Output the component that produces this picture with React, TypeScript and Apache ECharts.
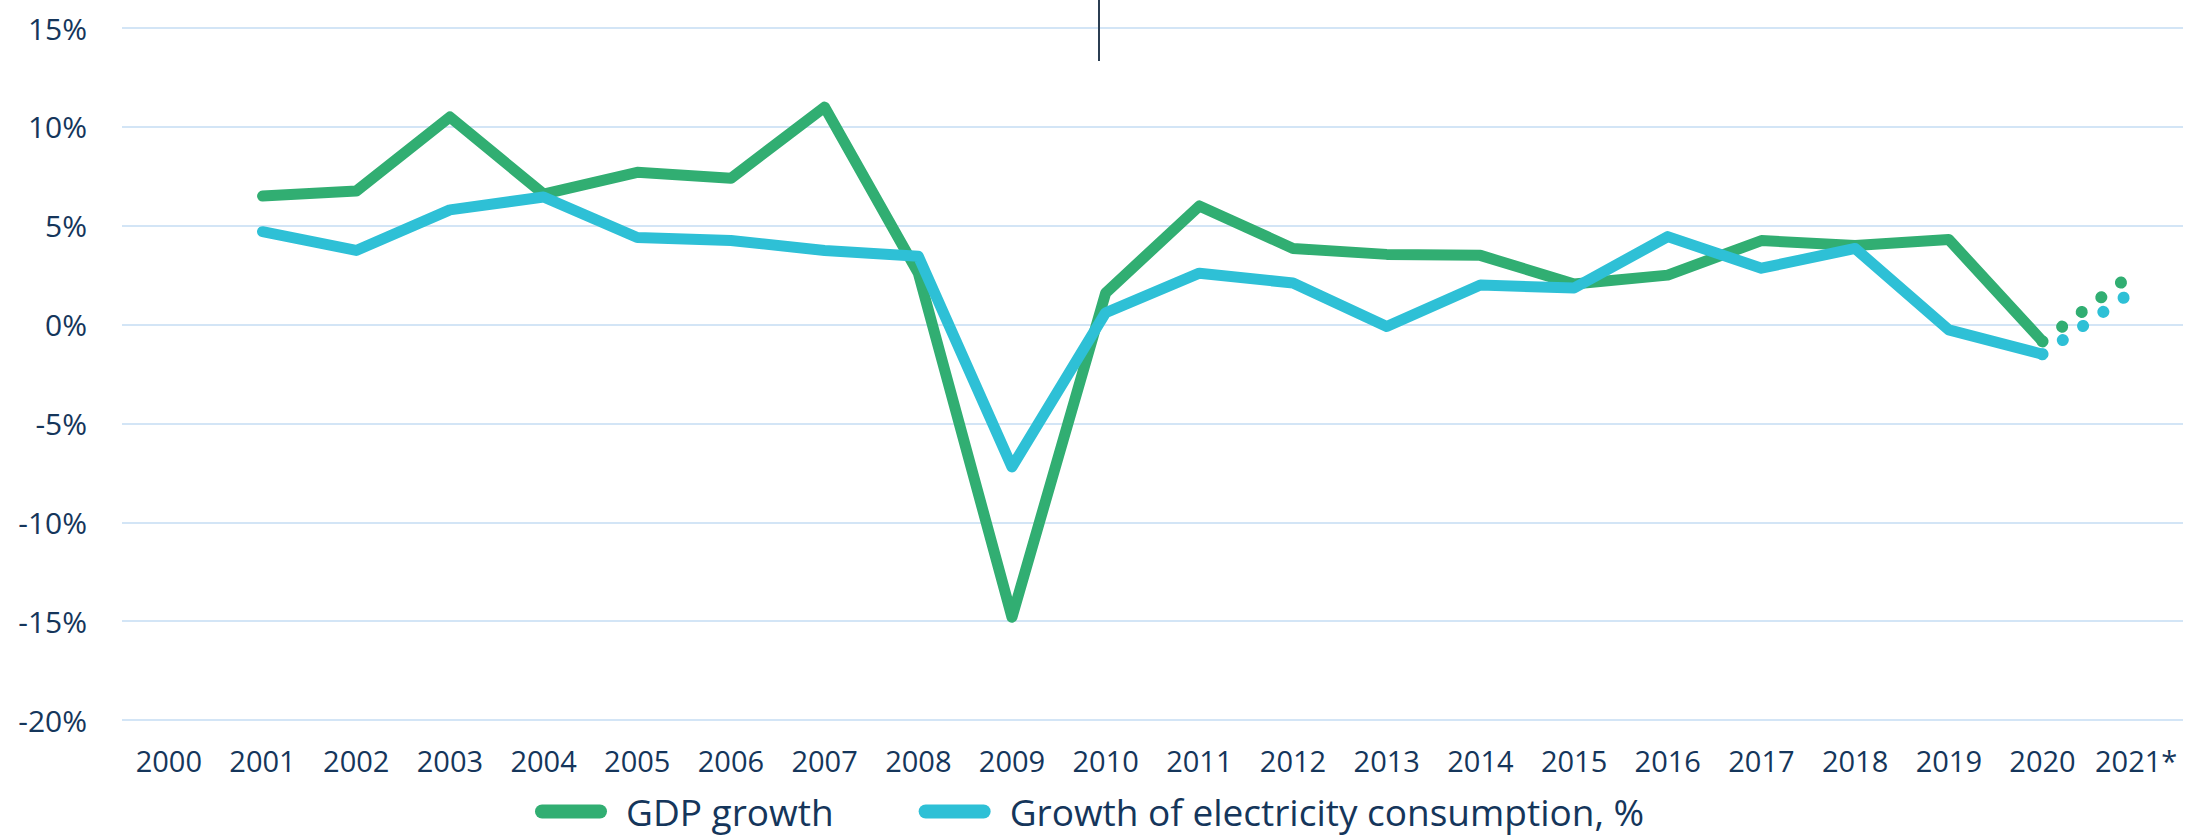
import React, { useEffect, useRef } from "react";
import * as echarts from "echarts";

const years = ["2000", "2001", "2002", "2003", "2004", "2005", "2006", "2007", "2008", "2009", "2010", "2011", "2012", "2013", "2014", "2015", "2016", "2017", "2018", "2019", "2020", "2021*"];

const gdpGrowth = [null, 6.5, 6.75, 10.5, 6.6, 7.7, 7.4, 11.0, 2.6, -14.8, 1.6, 6.0, 3.85, 3.55, 3.5, 2.05, 2.5, 4.25, 4.0, 4.3, -0.85, null];
const gdpForecast = [null, null, null, null, null, null, null, null, null, null, null, null, null, null, null, null, null, null, null, null, -0.85, 2.7];

const elecGrowth = [null, 4.7, 3.75, 5.8, 6.45, 4.4, 4.25, 3.75, 3.45, -7.2, 0.6, 2.6, 2.1, -0.1, 2.0, 1.85, 4.45, 2.85, 3.85, -0.27, -1.5, null];
const elecForecast = [null, null, null, null, null, null, null, null, null, null, null, null, null, null, null, null, null, null, null, null, -1.5, 1.8];

const GREEN = "#31ae72";
const CYAN = "#2ec0d6";
const TEXT = "#15365b";
const FONT = "'Open Sans', sans-serif";
const PILL = "path://M7,0 H65 A7,7 0 0 1 65,14 H7 A7,7 0 0 1 7,0 Z";

export default function App() {
  const ref = useRef<HTMLDivElement>(null);
  useEffect(() => {
    if (!ref.current) return;
    const chart = echarts.init(ref.current, undefined, { renderer: "svg" });
    chart.setOption({
      animation: false,
      grid: { left: 122, right: 2, top: 28, bottom: 119, containLabel: false },
      legend: {
        data: [
          { name: "GDP growth", icon: PILL },
          { name: "Growth of electricity consumption, %", icon: PILL },
        ],
        left: 530,
        top: 788,
        itemWidth: 72,
        itemHeight: 14,
        itemGap: 85,
        textStyle: { color: TEXT, fontSize: 37, fontFamily: FONT, padding: [0, 0, 0, 14] },
      },
      xAxis: {
        type: "category",
        data: years,
        boundaryGap: true,
        axisLine: { show: false },
        axisTick: { show: false },
        axisLabel: { color: TEXT, fontSize: 29, fontFamily: FONT, margin: 26, interval: 0 },
        splitLine: { show: false },
      },
      yAxis: {
        type: "value",
        min: -20,
        max: 15,
        interval: 5,
        axisLine: { show: false },
        axisTick: { show: false },
        axisLabel: { color: TEXT, fontSize: 30, fontFamily: FONT, margin: 35, formatter: "{value}%" },
        splitLine: { lineStyle: { color: "#d3e5f6", width: 2 } },
      },
      series: [
        {
          name: "GDP growth",
          type: "line",
          data: gdpGrowth,
          showSymbol: false,
          connectNulls: false,
          color: GREEN,
          lineStyle: { color: GREEN, width: 11, cap: "round", join: "round" },
          z: 2,
        },
        {
          name: "GDP growth forecast",
          type: "line",
          data: gdpForecast,
          showSymbol: false,
          color: GREEN,
          lineStyle: { color: GREEN, width: 12, type: [0.1, 24.4], cap: "round" },
          z: 2,
        },
        {
          name: "Growth of electricity consumption, %",
          type: "line",
          data: elecGrowth,
          showSymbol: false,
          connectNulls: false,
          color: CYAN,
          lineStyle: { color: CYAN, width: 11, cap: "round", join: "round" },
          z: 3,
        },
        {
          name: "Electricity forecast",
          type: "line",
          data: elecForecast,
          showSymbol: false,
          color: CYAN,
          lineStyle: { color: CYAN, width: 12, type: [0.1, 24.6], cap: "round" },
          z: 3,
        },
      ],
      graphic: [
        {
          type: "line",
          shape: { x1: 1099, y1: 0, x2: 1099, y2: 61 },
          style: { stroke: "#2b3e52", lineWidth: 2 },
          z: 10,
        },
      ],
    });
    return () => chart.dispose();
  }, []);
  return (
    <div
      ref={ref}
      style={{ position: "absolute", left: 0, top: 0, width: 2185, height: 839, background: "#fff" }}
    />
  );
}
